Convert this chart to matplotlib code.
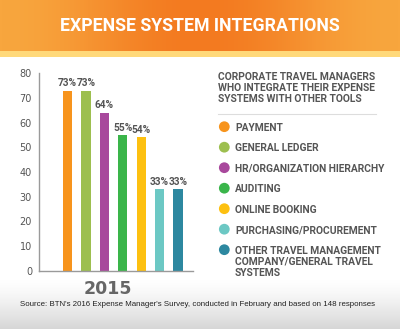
import numpy as np
import matplotlib
matplotlib.use("Agg")
import matplotlib.pyplot as plt

# Data
categories = ["PAYMENT", "GENERAL LEDGER", "HR/ORGANIZATION HIERARCHY", "AUDITING",
              "ONLINE BOOKING", "PURCHASING/PROCUREMENT",
              "OTHER TRAVEL MANAGEMENT\nCOMPANY/GENERAL TRAVEL\nSYSTEMS"]
values = [73, 73, 64, 55, 54, 33, 33]
colors = ["#F7941D", "#9DBF4F", "#A8489C", "#3AB54A", "#FDC010", "#6CC8C4", "#2D88A0"]
yticks = [0, 10, 20, 30, 40, 50, 60, 70, 80]
year = "2015"

W, H = 400, 329
narrow = ["Roboto", "DejaVu Sans"]
grey = "#555555"

fig = plt.figure(figsize=(W / 100, H / 100), dpi=100)

# background: header band and soft grey footer
bg = fig.add_axes([0, 0, 1, 1], zorder=-10)
bg.axis("off")
xs = np.linspace(0, 1, 200)
orange = 0.5 - 0.5 * np.cos(xs * 2 * np.pi)
c1 = np.array([248, 166, 62]) / 255
c2 = np.array([243, 122, 32]) / 255
grad = c1[None, :] + (c2 - c1)[None, :] * orange[:, None]
bg.imshow(grad[None, :, :], extent=[0, W, 51, 0], aspect="auto")
bg.add_patch(plt.Rectangle((0, 51), W, 6, color="#FFD97A", lw=0))
ys = np.linspace(0, 1, 100)[:, None]
fg = 1 - 0.16 * ys ** 1.3
foot = np.dstack([fg, fg, fg])
bg.imshow(foot, extent=[0, W, H, 280], aspect="auto")
bg.set_xlim(0, W)
bg.set_ylim(H, 0)

fig.text(0.5, 1 - 26 / H, "EXPENSE SYSTEM INTEGRATIONS", color="white",
         fontsize=12.8, fontweight="bold", family=narrow, ha="center", va="center")

# bar chart
ax = fig.add_axes([39 / W, 1 - 270.7 / H, 154 / W, (270.7 - 73.3) / H])
ax.set_facecolor("none")
x = np.arange(len(values))
ax.bar(x, values, width=0.5, color=colors)
for xi, v in zip(x, values):
    ax.text(xi, v + 1, f"{v}%", ha="center", va="bottom", fontsize=7.3,
            fontweight="bold", color=grey, family=narrow)
ax.set_xlim(-1.55, 6.82)
ax.set_ylim(0, 80)
ax.set_yticks(yticks)
ax.set_xticks([])
ax.tick_params(axis="y", length=0, pad=5, labelsize=7, labelcolor=grey)
for s in ["top", "right"]:
    ax.spines[s].set_visible(False)
for s in ["left", "bottom"]:
    ax.spines[s].set_color("#9a9a9a")
    ax.spines[s].set_linewidth(1)

fig.text(108 / W, 1 - 289 / H, year, ha="center", va="center", fontsize=12.5,
         fontweight="bold", color="#666666")

# legend
lg = fig.add_axes([0, 0, 1, 1])
lg.set_xlim(0, W)
lg.set_ylim(H, 0)
lg.axis("off")
lg.text(218, 71.5, "CORPORATE TRAVEL MANAGERS\nWHO INTEGRATE THEIR EXPENSE\nSYSTEMS WITH OTHER TOOLS",
        ha="left", va="top", fontsize=7.4, fontweight="bold", color=grey,
        family=narrow, linespacing=1.15)
lg.plot([218, 376], [113.5, 113.5], color="#dddddd", lw=0.8)
for i, (name, c) in enumerate(zip(categories, colors)):
    yy = 126.7 + 20.5 * i
    lg.scatter([224.3], [yy], s=60, color=c, edgecolor="none")
    lg.text(235, yy - 4, name, ha="left", va="top", fontsize=7.4,
            fontweight="bold", color=grey, family=narrow, linespacing=1.15)

fig.text(197 / W, 1 - 305 / H,
         "Source: BTN's 2016 Expense Manager's Survey, conducted in February and based on 148 responses",
         ha="center", va="center", fontsize=5.65, color="#222222", family="Liberation Sans")

fig.savefig("out.png", dpi=100)
